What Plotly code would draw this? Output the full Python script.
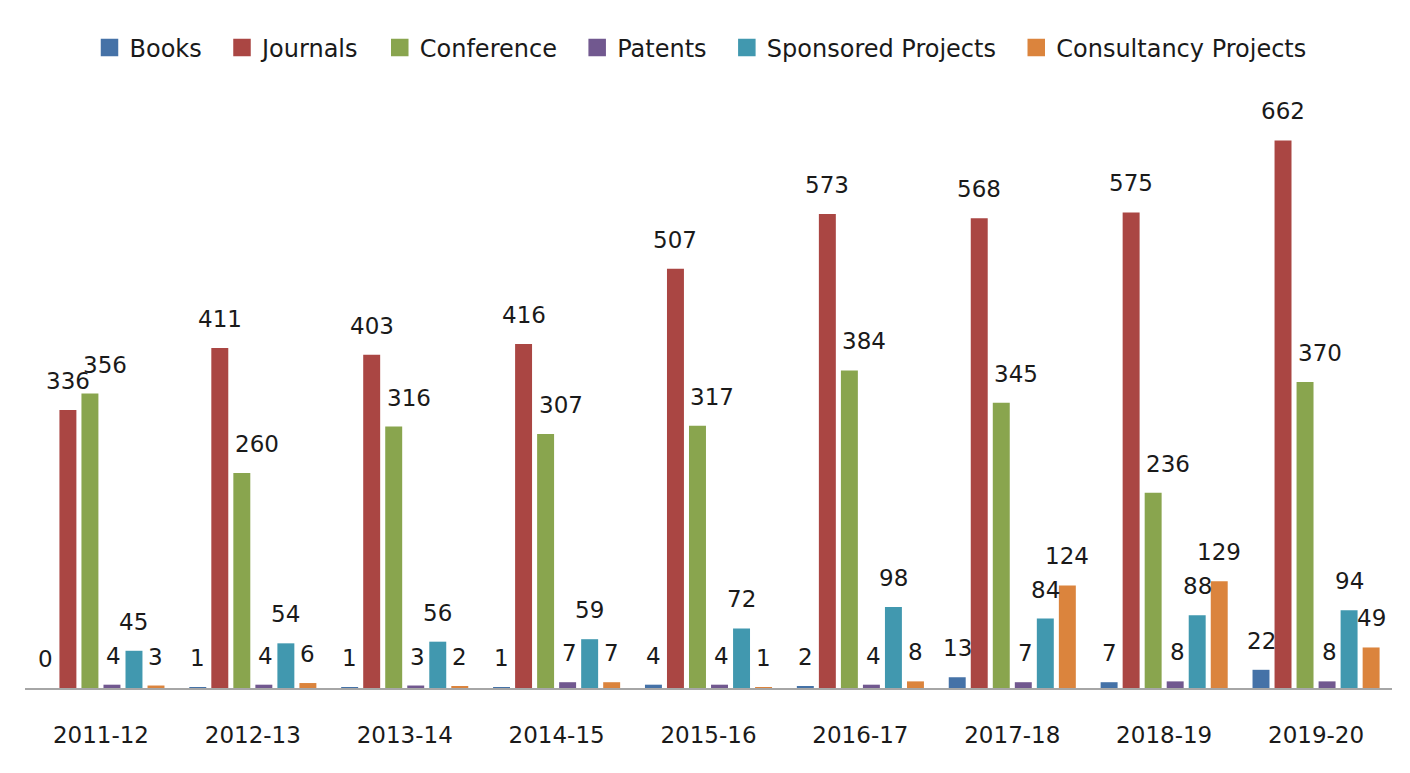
import plotly.graph_objects as go

# ---- data ----
years = ["2011-12", "2012-13", "2013-14", "2014-15", "2015-16",
         "2016-17", "2017-18", "2018-19", "2019-20"]
books = [0, 1, 1, 1, 4, 2, 13, 7, 22]
journals = [336, 411, 403, 416, 507, 573, 568, 575, 662]
conference = [356, 260, 316, 307, 317, 384, 345, 236, 370]
patents = [4, 4, 3, 7, 4, 4, 7, 8, 8]
sponsored = [45, 54, 56, 59, 72, 98, 84, 88, 94]
consultancy = [3, 6, 2, 7, 1, 8, 124, 129, 49]

series_names = ["Books", "Journals", "Conference", "Patents",
                "Sponsored Projects", "Consultancy Projects"]
series_values = [books, journals, conference, patents, sponsored, consultancy]
series_colors = ["#4572A7", "#AA4643", "#89A54E", "#71588F", "#4198AF", "#DB843D"]
label_nudge_x = [0, 0, 15, 2, 0, 0]   # px nudges of data labels per series

# ---- layout constants (figure sits at an 8px page offset) ----
W, H = 1402, 765
M_L, M_R, M_T, M_B = 17, 18, 101, 85
PLOT_W = W - M_L - M_R
PLOT_H = H - M_T - M_B
Y_MAX = 700
BARGAP = 0.13
BARGROUPGAP = 0.23
FONT = "DejaVu Sans"
TXT = "#1a1a1a"


def px_y(py):
    return (H - M_B - py) / PLOT_H


fig = go.Figure()

for name, vals, col in zip(series_names, series_values, series_colors):
    fig.add_trace(go.Bar(
        x=years, y=vals, name=name, marker=dict(color=col, line=dict(width=0)),
        showlegend=False, hoverinfo="x+y+name"))

# legend proxies (larger square swatches)
for name, col in zip(series_names, series_colors):
    fig.add_trace(go.Scatter(
        x=[None], y=[None], mode="markers", name=name + "\u00a0\u00a0",
        marker=dict(symbol="square", size=16, color=col,
                    line=dict(width=1.5, color=col)),
        showlegend=True))

# data labels
slot = PLOT_W / len(years) * (1 - BARGAP) / len(series_names)
ann = []
for i, vals in enumerate(series_values):
    for yr, v in zip(years, vals):
        ann.append(dict(
            x=yr, y=v, xref="x", yref="y", text=str(v), showarrow=False,
            xshift=(i - (len(series_names) - 1) / 2) * slot + label_nudge_x[i],
            yshift=29, font=dict(family=FONT, size=23, color=TXT)))

fig.update_layout(
    width=W, height=H,
    margin=dict(l=M_L, r=M_R, t=M_T, b=M_B, pad=0),
    paper_bgcolor="white", plot_bgcolor="white",
    barmode="group", bargap=BARGAP, bargroupgap=BARGROUPGAP,
    font=dict(family=FONT, size=23, color=TXT),
    legend=dict(orientation="h", x=0.5, xanchor="center", y=px_y(40),
                yanchor="middle", font=dict(family=FONT, size=24, color=TXT),
                bgcolor="rgba(0,0,0,0)", itemclick=False),
    xaxis=dict(type="category", showline=True, linecolor="#a6a6a6", linewidth=2,
               ticks="", showgrid=False, zeroline=False,
               tickfont=dict(family=FONT, size=23, color=TXT),
               ticklabelstandoff=25, fixedrange=True),
    yaxis=dict(range=[0, Y_MAX], visible=False, showgrid=False, zeroline=False,
               fixedrange=True),
    annotations=ann,
)

fig.write_html("out.html")
